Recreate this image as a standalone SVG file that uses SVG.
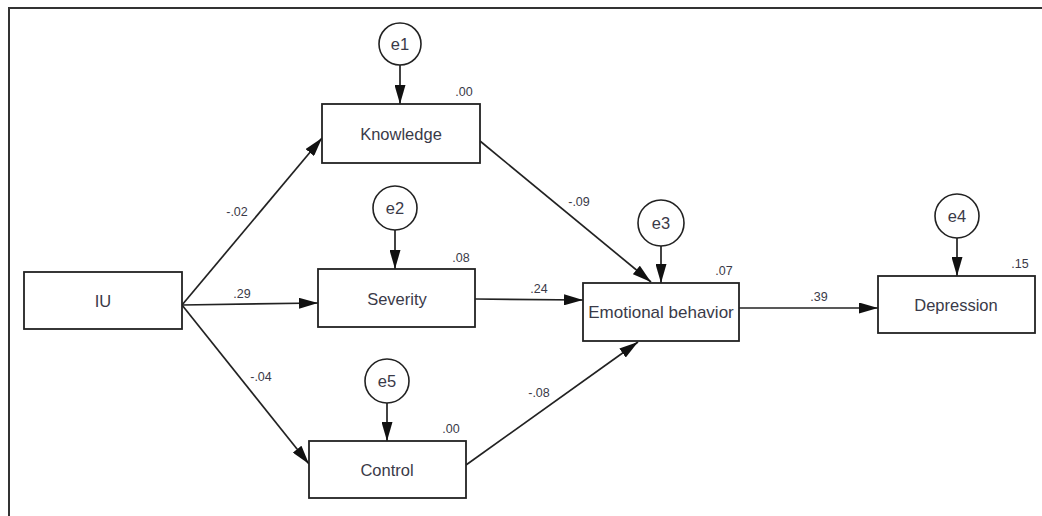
<svg xmlns="http://www.w3.org/2000/svg" width="1042" height="516" viewBox="0 0 1042 516">
<defs>
<marker id="arr" viewBox="0 0 19 11" refX="19" refY="5.5" markerWidth="19" markerHeight="11" markerUnits="userSpaceOnUse" orient="auto">
<path d="M0,0 L19,5.5 L0,11 Z" fill="#111"/>
</marker>
<style>
.box{fill:#fff;stroke:#222;stroke-width:1.8}
.err{fill:#fff;stroke:#222;stroke-width:1.6}
.lbl{font-family:"Liberation Sans",Arial,sans-serif;font-size:16.5px;fill:#3a3a48;text-anchor:middle}
.coef{font-family:"Liberation Sans",Arial,sans-serif;font-size:12.5px;fill:#3a3a48;text-anchor:middle}
.edge{stroke:#222;stroke-width:1.7;fill:none;marker-end:url(#arr)}
</style>
</defs>
<rect width="1042" height="516" fill="#fff"/>
<path d="M9,516 L9,8 L1042,8" fill="none" stroke="#333" stroke-width="2"/>
<g id="connectors">
<line class="edge" x1="182" y1="305" x2="322" y2="138"/>
<line class="edge" x1="182" y1="305" x2="318" y2="303"/>
<line class="edge" x1="182" y1="305" x2="309" y2="464"/>
<line class="edge" x1="480" y1="141" x2="651" y2="282"/>
<line class="edge" x1="475" y1="299" x2="583" y2="300"/>
<line class="edge" x1="466" y1="465" x2="638" y2="342"/>
<line class="edge" x1="739" y1="308" x2="878" y2="308"/>
<line class="edge" x1="400" y1="65" x2="400" y2="104"/>
<line class="edge" x1="395" y1="230" x2="395" y2="269"/>
<line class="edge" x1="661" y1="246" x2="661" y2="283"/>
<line class="edge" x1="957" y1="238" x2="957" y2="276"/>
<line class="edge" x1="387" y1="403" x2="387" y2="441"/>
<text class="coef" x="237" y="216">-.02</text>
<text class="coef" x="242" y="298">.29</text>
<text class="coef" x="261" y="381">-.04</text>
<text class="coef" x="579" y="206">-.09</text>
<text class="coef" x="539" y="293">.24</text>
<text class="coef" x="539" y="397">-.08</text>
<text class="coef" x="819" y="301">.39</text>
</g>
<g id="IU">
<rect class="box" x="24" y="272" width="158" height="57"/>
<text class="lbl" x="103" y="307">IU</text>
</g>
<g id="Knowledge">
<rect class="box" x="322" y="104" width="158" height="59"/>
<text class="lbl" x="401" y="140">Knowledge</text>
<text class="coef" x="464" y="96">.00</text>
</g>
<g id="Severity">
<rect class="box" x="318" y="269" width="157" height="58"/>
<text class="lbl" x="397" y="305">Severity</text>
<text class="coef" x="461" y="262">.08</text>
</g>
<g id="Control">
<rect class="box" x="309" y="441" width="157" height="57"/>
<text class="lbl" x="387" y="476">Control</text>
<text class="coef" x="451" y="433">.00</text>
</g>
<g id="Emotional">
<rect class="box" x="583" y="283" width="156" height="58"/>
<text class="lbl" x="661" y="318" style="font-size:17px">Emotional behavior</text>
<text class="coef" x="724" y="275">.07</text>
</g>
<g id="Depression">
<rect class="box" x="878" y="276" width="157" height="57"/>
<text class="lbl" x="956" y="311">Depression</text>
<text class="coef" x="1020" y="268">.15</text>
</g>
<g id="e1">
<circle class="err" cx="400" cy="44" r="21"/>
<text class="lbl" x="400" y="50">e1</text>
</g>
<g id="e2">
<circle class="err" cx="395" cy="208" r="22"/>
<text class="lbl" x="395" y="214">e2</text>
</g>
<g id="e3">
<circle class="err" cx="661" cy="223" r="23"/>
<text class="lbl" x="661" y="229">e3</text>
</g>
<g id="e4">
<circle class="err" cx="957" cy="216" r="22"/>
<text class="lbl" x="957" y="222">e4</text>
</g>
<g id="e5">
<circle class="err" cx="387" cy="381" r="22"/>
<text class="lbl" x="387" y="387">e5</text>
</g>
</svg>
